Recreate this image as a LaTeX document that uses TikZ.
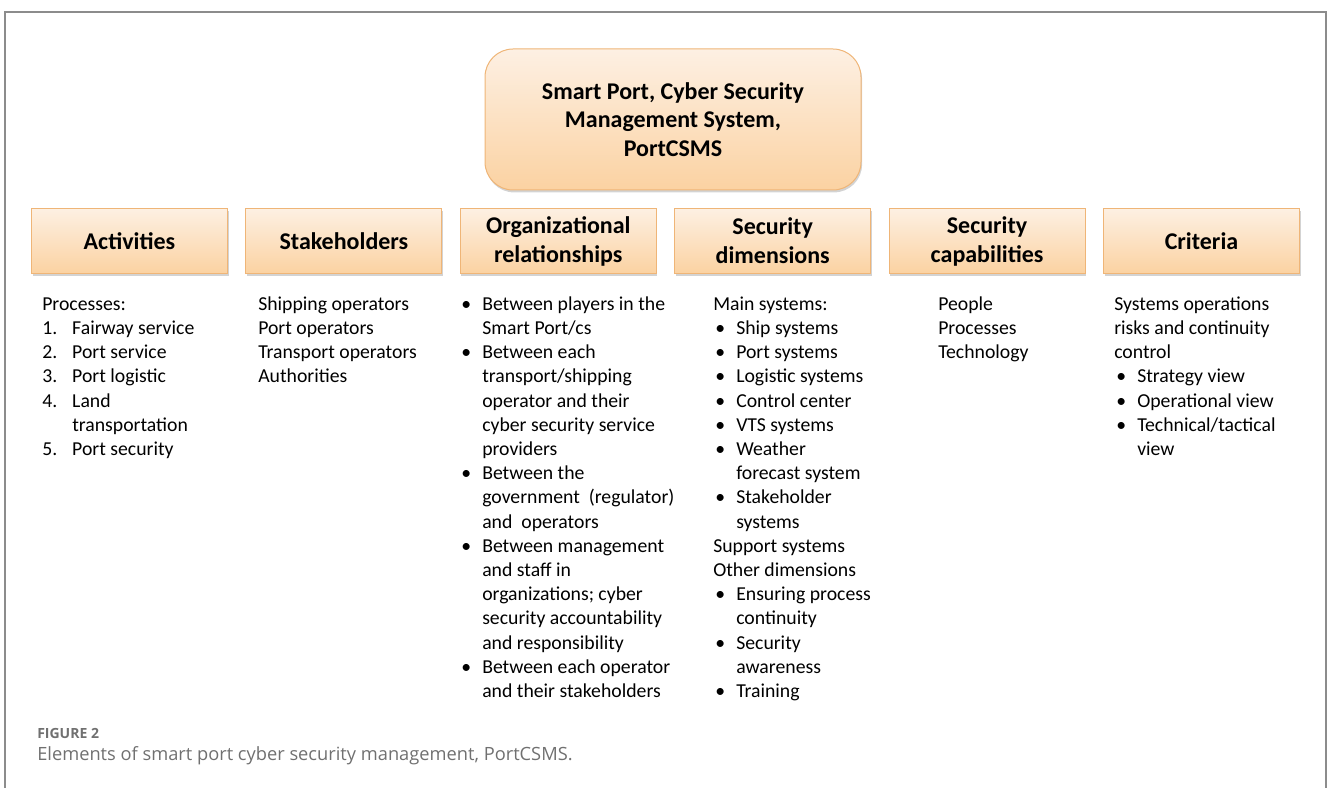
\documentclass[tikz,border=0pt]{standalone}
\usepackage{fontspec}
\setmainfont{Carlito}
\newfontfamily\capfont{Open Sans}
\usetikzlibrary{positioning,shadows}

\definecolor{boxtop}{HTML}{FDF0E3}
\definecolor{boxbot}{HTML}{FBD2A2}
\definecolor{boxline}{HTML}{EFB577}
\definecolor{framegray}{HTML}{8C8C8C}
\definecolor{capgray}{HTML}{707070}

\newcommand{\bul}{\makebox[17.25pt][l]{\hspace{1.5pt}\textbullet}}
\newcommand{\ind}{\hspace*{17.25pt}}
\newcommand{\num}[1]{\makebox[22.5pt][l]{#1}}

\tikzset{
  every node/.style={inner sep=0pt},
  shadebox/.style={draw=boxline, line width=0.75pt, top color=boxtop, bottom color=boxbot,
    drop shadow={shadow xshift=0.8pt, shadow yshift=-1.8pt, opacity=0.35}},
  topbox/.style={shadebox, rounded corners=21pt, minimum width=282pt, minimum height=105.75pt,
    align=center, font=\fontsize{18}{21.5}\selectfont\bfseries},
  headbox/.style={shadebox, minimum width=147pt, minimum height=48.75pt,
    align=center, font=\fontsize{18}{21.75}\selectfont\bfseries},
  listtext/.style={anchor=north west, align=left, font=\fontsize{14.8}{18.15}\selectfont}
}

\begin{document}
\begin{tikzpicture}[x=0.75pt, y=-0.75pt]
  \useasboundingbox (0,0) rectangle (1328,788);
  \draw[framegray, line width=1.5pt] (5,788) -- (5,12) -- (1326,12) -- (1326,788);

  % main box
  \node[topbox] (csms) at (673,119.5) {Smart Port, Cyber Security\\Management System,\\PortCSMS};

  % element boxes
  \node[headbox, anchor=north west] (activ) at (31,208) {Activities};
  \node[headbox, right=13.05pt of activ] (stake) {Stakeholders};
  \node[headbox, right=13.05pt of stake] (orgrel) {Organizational\\relationships};
  \node[headbox, right=13.05pt of orgrel] (secdim) {Security\\dimensions};
  \node[headbox, right=13.05pt of secdim] (seccap) {Security\\capabilities};
  \node[headbox, right=13.05pt of seccap] (crit) {Criteria};

  % contents
  \node[listtext] (activtxt) at (42,293) {\strut Processes:\\
    \num{1.}Fairway service\\
    \num{2.}Port service\\
    \num{3.}Port logistic\\
    \num{4.}Land\\
    \num{}transportation\\
    \num{5.}Port security};

  \node[listtext] (staketxt) at (258,293) {\strut Shipping operators\\
    Port operators\\
    Transport operators\\
    Authorities};

  \node[listtext] (orgreltxt) at (459,293) {\strut\bul Between players in the\\
    \ind Smart Port/cs\\
    \bul Between each\\
    \ind transport/shipping\\
    \ind operator and their\\
    \ind cyber security service\\
    \ind providers\\
    \bul Between the\\
    \ind government\ \ (regulator)\\
    \ind and\ \ operators\\
    \bul Between management\\
    \ind and staff in\\
    \ind organizations; cyber\\
    \ind security accountability\\
    \ind and responsibility\\
    \bul Between each operator\\
    \ind and their stakeholders};

  \node[listtext] (secdimtxt) at (713,293) {\strut Main systems:\\
    \bul Ship systems\\
    \bul Port systems\\
    \bul Logistic systems\\
    \bul Control center\\
    \bul VTS systems\\
    \bul Weather\\
    \ind forecast system\\
    \bul Stakeholder\\
    \ind systems\\
    Support systems\\
    Other dimensions\\
    \bul Ensuring process\\
    \ind continuity\\
    \bul Security\\
    \ind awareness\\
    \bul Training};

  \node[listtext] (seccaptxt) at (938,293) {\strut People\\
    Processes\\
    Technology};

  \node[listtext] (crittxt) at (1114,293) {\strut Systems operations\\
    risks and continuity\\
    control\\
    \bul Strategy view\\
    \bul Operational view\\
    \bul Technical/tactical\\
    \ind view};

  % caption
  \node[anchor=west, text=capgray, font=\capfont\fontsize{10.5}{12}\selectfont\bfseries] (fignum) at (37,733) {FIGURE 2};
  \node[anchor=west, text=capgray, font=\capfont\fontsize{13.7}{16}\selectfont] (figcap) at (37,756) {Elements of smart port cyber security management, PortCSMS.};
\end{tikzpicture}
\end{document}
